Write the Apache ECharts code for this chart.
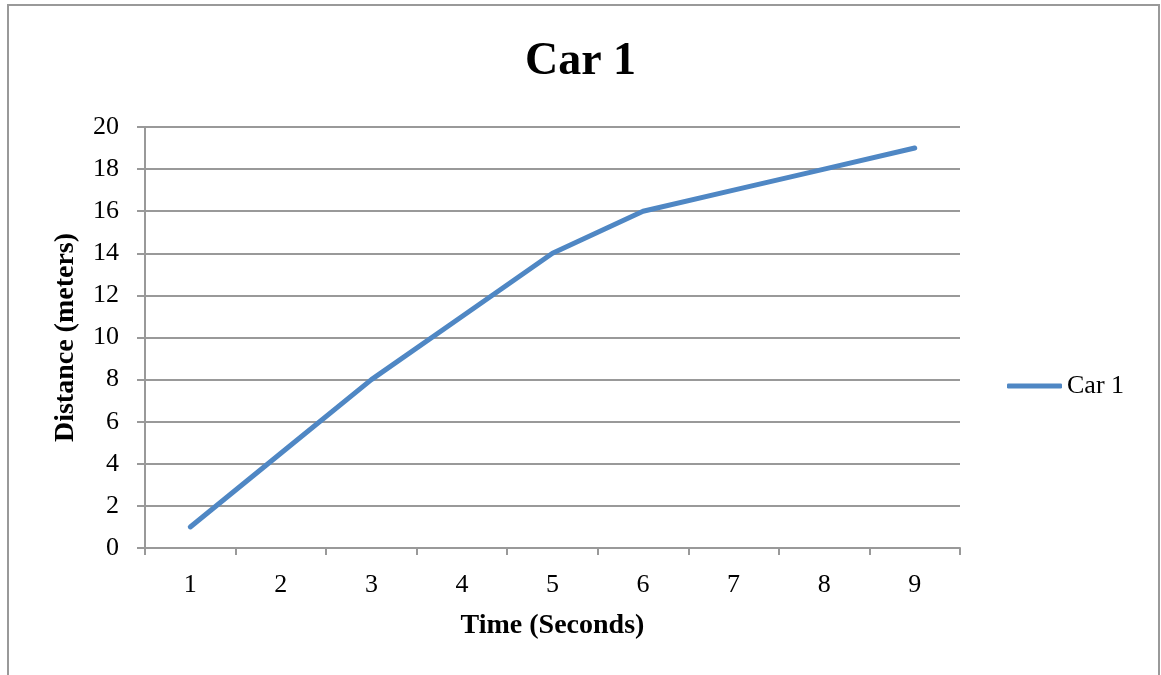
<!DOCTYPE html>
<html><head><meta charset="utf-8">
<script src="https://cdn.jsdelivr.net/npm/echarts@6/dist/echarts.min.js"></script>
<style>html,body{margin:0;padding:0;background:#fff}#c{width:1161px;height:675px}</style>
</head><body><div id="c"></div>
<script>
const categories = ['1','2','3','4','5','6','7','8','9'];
const car1 = [1, 4.5, 8, 11, 14, 16, 17, 18, 19];
const seriesName = 'Car 1';
const font = '"Liberation Serif", "DejaVu Serif", serif';
const chart = echarts.init(document.getElementById('c'));
chart.setOption({
  animation: false,
  backgroundColor: '#fff',
  graphic: [{type:'rect', shape:{x:8,y:5,width:1151,height:720}, style:{fill:'none', stroke:'#999', lineWidth:2}, z:-1}],
  title: {text: 'Car 1', left: 'center', top: 34, textStyle:{fontFamily:font, fontWeight:'bold', fontSize:46, color:'#000'}},
  legend: {orient:'vertical', left: 1002, top: 368, itemWidth: 55, itemHeight: 5, itemGap: 4,
    data:[{name:seriesName, icon:'roundRect'}],
    textStyle:{fontFamily:font, fontSize:26, color:'#000'}},
  grid: {left: 145, right: 201, top: 127, bottom: 127},
  xAxis: {type:'category', data: categories, boundaryGap: true,
    name:'Time (Seconds)', nameLocation:'middle', nameGap: 64,
    nameTextStyle:{fontFamily:font, fontWeight:'bold', fontSize:28, color:'#000'},
    axisLine:{lineStyle:{color:'#999', width:2}},
    axisTick:{show:true, length:7, lineStyle:{color:'#999', width:2}},
    axisLabel:{fontFamily:font, fontSize:26, color:'#000', margin:24}},
  yAxis: {type:'value', min:0, max:20, interval:2,
    name:'Distance (meters)', nameLocation:'middle', nameGap: 65, nameRotate: 90,
    nameTextStyle:{fontFamily:font, fontWeight:'bold', fontSize:28, color:'#000'},
    axisLine:{show:true, lineStyle:{color:'#999', width:2}},
    axisTick:{show:true, length:8, lineStyle:{color:'#999', width:2}},
    splitLine:{lineStyle:{color:'#999', width:2}},
    axisLabel:{fontFamily:font, fontSize:26, color:'#000', margin:26}},
  series: [{name: seriesName, type:'line', data: car1, symbol:'none', smooth:false,
    lineStyle:{color:'#4f87c4', width:5, cap:'round', join:'round'}, itemStyle:{color:'#4f87c4'}}]
});
</script></body></html>
